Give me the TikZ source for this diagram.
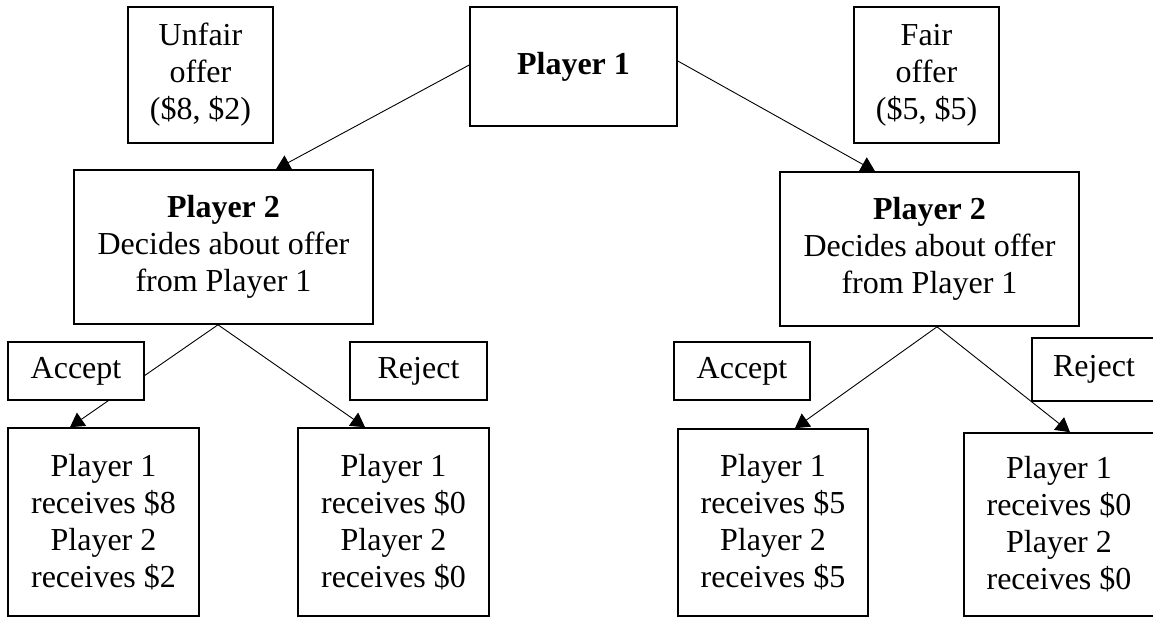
\documentclass[tikz,border=0pt]{standalone}
\usepackage{fontspec}
\setmainfont{Liberation Serif}
\usetikzlibrary{arrows.meta,backgrounds}
\tikzset{
  box/.style={draw, line width=1.6pt, fill=white, inner sep=0pt, align=center,
    font=\fontsize{32}{37}\selectfont},
  conn/.style={line width=0.9pt, -{Triangle[length=14pt,width=16pt]}}
}
\begin{document}
\begin{tikzpicture}[x=1pt,y=-1pt]
\useasboundingbox (0,0) rectangle (1153,617);
\clip (0,0) rectangle (1153,617);
\node[box, minimum width=207pt, minimum height=119pt] (p1) at (573.5,66.5) {\textbf{Player 1}};
\node[box, minimum width=145pt, minimum height=136pt] (unfair) at (200.5,75) {Unfair\\offer\\(\$8, \$2)};
\node[box, minimum width=145pt, minimum height=136pt] (fair) at (926.5,75) {Fair\\offer\\(\$5, \$5)};
\node[box, minimum width=299pt, minimum height=154pt] (p2l) at (223.5,247) {\textbf{Player 2}\\Decides about offer\\from Player 1};
\node[box, minimum width=299pt, minimum height=154pt] (p2r) at (929.5,249) {\textbf{Player 2}\\Decides about offer\\from Player 1};
\node[box, minimum width=136pt, minimum height=58pt] (accl) at (76,371) {Accept};
\node[box, minimum width=137pt, minimum height=58pt] (rejl) at (418.5,371) {Reject};
\node[box, minimum width=136pt, minimum height=58pt] (accr) at (742,371) {Accept};
\node[box, minimum width=124pt, minimum height=63pt] (rejr) at (1094,369.5) {Reject};
\node[box, minimum width=191pt, minimum height=188pt] (pay1) at (103.5,522) {Player 1\\receives \$8\\Player 2\\receives \$2};
\node[box, minimum width=191pt, minimum height=188pt] (pay2) at (393.5,522) {Player 1\\receives \$0\\Player 2\\receives \$0};
\node[box, minimum width=190pt, minimum height=187pt] (pay3) at (773,522.5) {Player 1\\receives \$5\\Player 2\\receives \$5};
\node[box, minimum width=190pt, minimum height=183pt] (pay4) at (1059,524.5) {Player 1\\receives \$0\\Player 2\\receives \$0};
\begin{scope}[on background layer]
\draw[conn] ([yshift=1.5pt]p1.west) -- ([xshift=52.5pt]p2l.north);
\draw[conn] ([yshift=5.5pt]p1.east) -- ([xshift=-54.5pt]p2r.north);
\draw[conn] ([xshift=-5.5pt]p2l.south) -- ([xshift=-33.5pt]pay1.north);
\draw[conn] ([xshift=-5.5pt]p2l.south) -- ([xshift=-28.5pt]pay2.north);
\draw[conn] ([xshift=7.5pt]p2r.south) -- ([xshift=22pt]pay3.north);
\draw[conn] ([xshift=7.5pt]p2r.south) -- ([xshift=11pt]pay4.north);
\end{scope}
\end{tikzpicture}
\end{document}
